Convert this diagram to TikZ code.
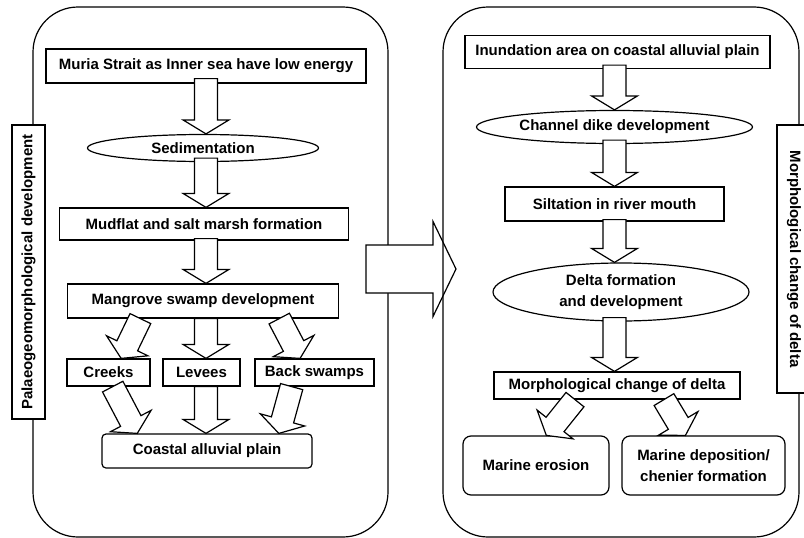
\documentclass[tikz,border=0pt]{standalone}
\usepackage{fontspec}
\setmainfont{Liberation Sans}
\usetikzlibrary{calc,shapes.geometric}
\tikzset{
  panel/.style={line width=1.2pt, rounded corners=45pt},
  box/.style={draw, line width=1.2pt, fill=white, inner sep=0pt,
    font=\fontsize{15}{21}\selectfont\bfseries},
  oval/.style={box, ellipse},
  hollow/.style={draw, fill=white, line width=1.2pt, line join=miter}
}
% hollow block arrow: from, tip, shaft half width, head half width, head length
\newcommand{\fatarrow}[5]{%
  \path (#1) coordinate (fa-a) (#2) coordinate (fa-b);
  \path ($(fa-b)!#5pt!(fa-a)$) coordinate (fa-h);
  \draw[hollow] ($(fa-a)!#3pt!90:(fa-b)$) -- ($(fa-h)!#3pt!-90:(fa-a)$)
    -- ($(fa-h)!#4pt!-90:(fa-a)$) -- (fa-b) -- ($(fa-h)!#4pt!90:(fa-a)$)
    -- ($(fa-h)!#3pt!90:(fa-a)$) -- ($(fa-a)!#3pt!-90:(fa-b)$) -- cycle;}
\newcommand{\blockarrow}[2]{\fatarrow{#1}{#2}{11.5}{23}{14}}

\begin{document}
\begin{tikzpicture}[x=1pt,y=-1pt]
  \useasboundingbox (0,0) rectangle (804,538);

  % left panel
  \draw[panel] (33,7) rectangle (388,537);
  \node[box, rotate=90, minimum width=294pt, minimum height=33pt] (lefttitle) at (28.5,272) {Palaeogeomorphological development};

  \node[box, minimum width=320pt, minimum height=34pt] (muria) at (206,66) {Muria Strait as Inner sea have low energy};
  \node[oval, minimum width=231pt, minimum height=27pt] (sedim) at (203,148) {Sedimentation};
  \node[box, minimum width=289pt, minimum height=32pt] (mudflat) at (204,224) {Mudflat and salt marsh formation};
  \node[box, minimum width=271pt, minimum height=34pt] (mangrove) at (203,301) {Mangrove swamp development};
  \node[box, minimum width=83pt, minimum height=27pt] (creeks) at (108.5,372.5) {Creeks};
  \node[box, minimum width=77pt, minimum height=27pt] (levees) at (201.5,372.5) {Levees};
  \node[box, minimum width=119pt, minimum height=27pt] (backsw) at (314.5,372.5) {Back swamps};
  \node[box, rounded corners=4pt, minimum width=210pt, minimum height=34pt] (coastal) at (207,451) {Coastal alluvial plain};

  % arrows, left
  \blockarrow{$(muria.south)+(0,-5)$}{muria.south |- sedim.north}
  \blockarrow{$(muria.south |- sedim.south)+(0,-4)$}{muria.south |- mudflat.north}
  \blockarrow{$(muria.south |- mudflat.south)+(0,-2)$}{muria.south |- mangrove.north}
  \blockarrow{$(mangrove.south west)!0.27!(mangrove.south east)$}{$(creeks.north west)!0.65!(creeks.north east)$}
  \blockarrow{muria.south |- mangrove.south}{muria.south |- levees.north}
  \blockarrow{$(mangrove.south west)!0.78!(mangrove.south east)$}{$(backsw.north west)!0.38!(backsw.north east)$}
  \blockarrow{$(creeks.south west)!0.55!(creeks.south east)$}{$(coastal.north west)!0.17!(coastal.north east)$}
  \blockarrow{muria.south |- levees.south}{muria.south |- coastal.north}
  \blockarrow{$(backsw.south west)!0.31!(backsw.south east)$}{$(coastal.north west)!0.84!(coastal.north east)$}

  % big arrow between the panels
  \coordinate (shaftstart) at (366,269);
  \coordinate (shafttip) at (456,269);
  \fatarrow{shaftstart}{shafttip}{24}{47.5}{23}

  % right panel
  \draw[panel] (443,7) rectangle (799,537);
  \node[box, rotate=-90, minimum width=268pt, minimum height=34pt] (righttitle) at (794,259) {Morphological change of delta};

  \node[box, minimum width=305pt, minimum height=33pt] (inund) at (617.5,52) {Inundation area on coastal alluvial plain};
  \node[oval, minimum width=276pt, minimum height=33pt] (channel) at (614.5,127) {Channel dike development};
  \node[box, minimum width=219pt, minimum height=34pt] (silt) at (614.5,204) {Siltation in river mouth};
  \node[oval, align=center, minimum width=256pt, minimum height=58pt] (delta) at (621,292) {Delta formation\\and development};
  \node[box, minimum width=246pt, minimum height=27pt] (morph) at (617,385.5) {Morphological change of delta};
  \node[box, rounded corners=8pt, minimum width=146pt, minimum height=59pt] (erosion) at (536,465.5) {Marine erosion};
  \node[box, rounded corners=8pt, align=center, minimum width=163pt, minimum height=59pt] (depos) at (703.5,465.5) {Marine deposition/\\chenier formation};

  % arrows, right
  \blockarrow{$(inund.south -| silt.north)+(0,-4)$}{silt.north |- channel.north}
  \blockarrow{$(silt.north |- channel.south)+(0,-4)$}{silt.north}
  \blockarrow{$(silt.south)+(0,-2)$}{silt.south |- delta.north}
  \blockarrow{$(silt.south |- delta.south)+(0,-4)$}{silt.south |- morph.north}
  \blockarrow{$(morph.south west)!0.33!(morph.south east)$}{$(erosion.north west)!0.57!(erosion.north east)$}
  \blockarrow{$(morph.south west)!0.69!(morph.south east)$}{$(depos.north west)!0.39!(depos.north east)$}
\end{tikzpicture}
\end{document}
